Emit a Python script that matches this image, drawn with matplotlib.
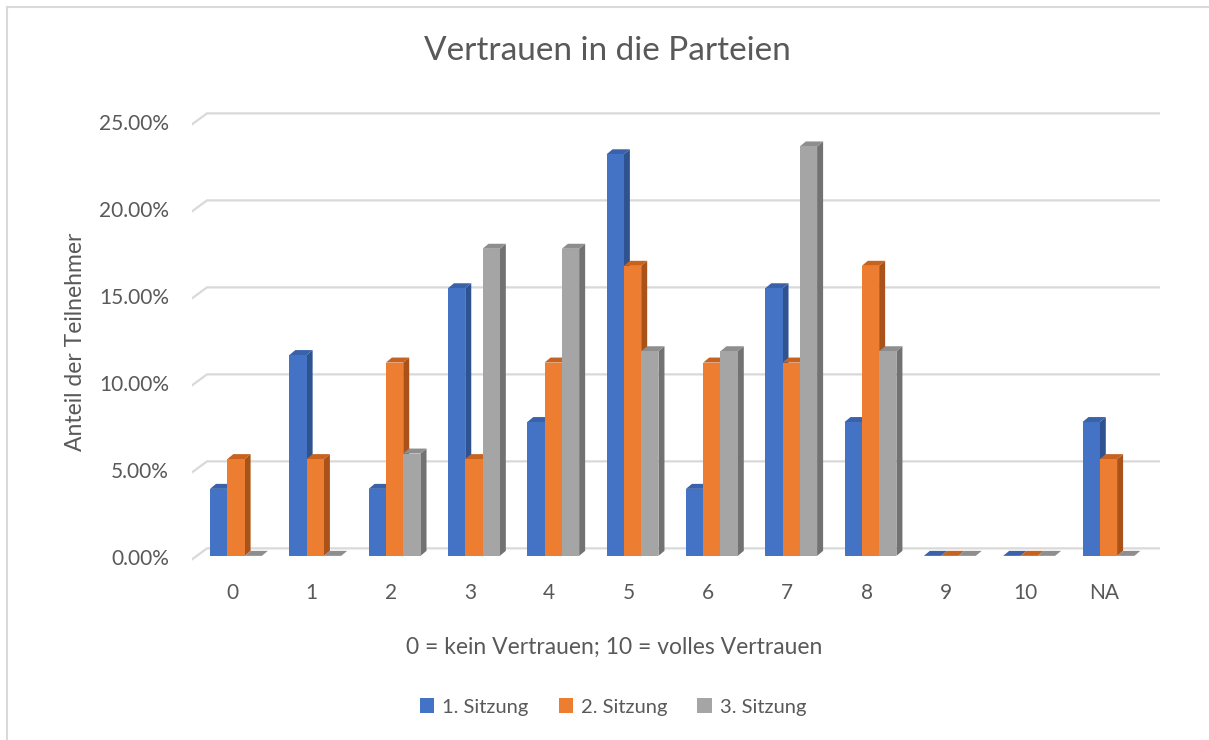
import matplotlib.pyplot as plt
from matplotlib.patches import Polygon, Patch

# ---- data (share of participants, %) ----
categories = ['0', '1', '2', '3', '4', '5', '6', '7', '8', '9', '10', 'NA']
sitzung1 = [3.85, 11.54, 3.85, 15.38, 7.69, 23.08, 3.85, 15.38, 7.69, 0, 0, 7.69]
sitzung2 = [5.56, 5.56, 11.11, 5.56, 11.11, 16.67, 11.11, 11.11, 16.67, 0, 0, 5.56]
sitzung3 = [0, 0, 5.88, 17.65, 17.65, 11.76, 11.76, 23.53, 11.76, 0, 0, 0]
series_names = ['1. Sitzung', '2. Sitzung', '3. Sitzung']
yticks = [0, 5, 10, 15, 20, 25]

# (front, top, side) shades per series, Excel office palette
colors = [('#4472C4', '#3A62AA', '#2F5290'),
          ('#ED7D31', '#C8621F', '#A9531A'),
          ('#A5A5A5', '#8E8E8E', '#727272')]
TXT = '#595959'
TICK_FS, TITLE_FS, AXT_FS = 15, 24, 16.5
plt.rcParams['font.family'] = ['Lato', 'DejaVu Sans']

W, H = 1209, 740
fig = plt.figure(figsize=(W / 100, H / 100), dpi=100)
L, T, R, B = 192, 100, 1160, 575          # plot box in pixels
ax = fig.add_axes([L / W, 1 - B / H, (R - L) / W, (B - T) / H])
x0, x1 = -0.504, 11.70
y0, y1 = -1.1, 26.2
ax.set_xlim(x0, x1); ax.set_ylim(y0, y1)
ax.axis('off')
sx = (R - L) / (x1 - x0)                   # px per category
sy = (B - T) / (y1 - y0)                   # px per percent

# ---- back wall gridlines with the slanted side-wall stub ----
wall_dx, back_dy, front_dy = 15 / sx, 7.5 / sy, -3.5 / sy
for v in yticks:
    ax.plot([x0, x0 + wall_dx, x1], [v + front_dy, v + back_dy, v + back_dy],
            color='#D9D9D9', lw=1.6, solid_joinstyle='miter', zorder=1)
    ax.text(x0 - 23 / sx, v + front_dy, f'{v:.2f}%', ha='right', va='center',
            fontsize=TICK_FS, color=TXT, clip_on=False)

# ---- pseudo-3D clustered columns ----
bw = 0.218
dx, dy = 6 / sx, 5 / sy
for i in range(len(categories)):
    for j, vals in enumerate([sitzung1, sitzung2, sitzung3]):
        h = vals[i]
        l = i + 0.05 + (j - 1) * bw - bw / 2
        r = l + bw
        front, top, side = colors[j]
        z = 2 + j
        ax.add_patch(Polygon([(r, 0), (r + dx, dy), (r + dx, h + dy), (r, h)],
                             closed=True, fc=side, ec='none', zorder=z))
        ax.add_patch(Polygon([(l, h), (l + dx, h + dy), (r + dx, h + dy), (r, h)],
                             closed=True, fc=top, ec='none', zorder=z))
        if h > 0:
            ax.bar(l, h, width=bw, align='edge', color=front, zorder=z)
    ax.text(i, -37 / sy, categories[i], ha='center', va='center',
            fontsize=TICK_FS, color=TXT, clip_on=False)

# ---- texts ----
fig.text(607 / W, 1 - 51 / H, 'Vertrauen in die Parteien', ha='center', va='center',
         fontsize=TITLE_FS, color=TXT)
fig.text(75 / W, 1 - 342 / H, 'Anteil der Teilnehmer', rotation=90, ha='center',
         va='center', fontsize=AXT_FS, color=TXT)
fig.text(614 / W, 1 - 647 / H, '0 = kein Vertrauen; 10 = volles Vertrauen',
         ha='center', va='center', fontsize=AXT_FS, color=TXT)

handles = [Patch(facecolor=c[0]) for c in colors]
fig.legend(handles, series_names, loc='center', bbox_to_anchor=(613 / W, 1 - 707 / H),
           ncol=3, frameon=False, fontsize=14.5, labelcolor=TXT,
           handlelength=0.7, handleheight=0.7, handletextpad=0.4, columnspacing=1.5)

# chart border (left and top edges visible)
fig.add_artist(plt.Line2D([7 / W, 7 / W], [0, 1 - 7 / H], color='#D9D9D9', lw=1.5))
fig.add_artist(plt.Line2D([7 / W, 1], [1 - 7 / H, 1 - 7 / H], color='#D9D9D9', lw=1.5))

fig.savefig('out.png', dpi=100, facecolor='white')
